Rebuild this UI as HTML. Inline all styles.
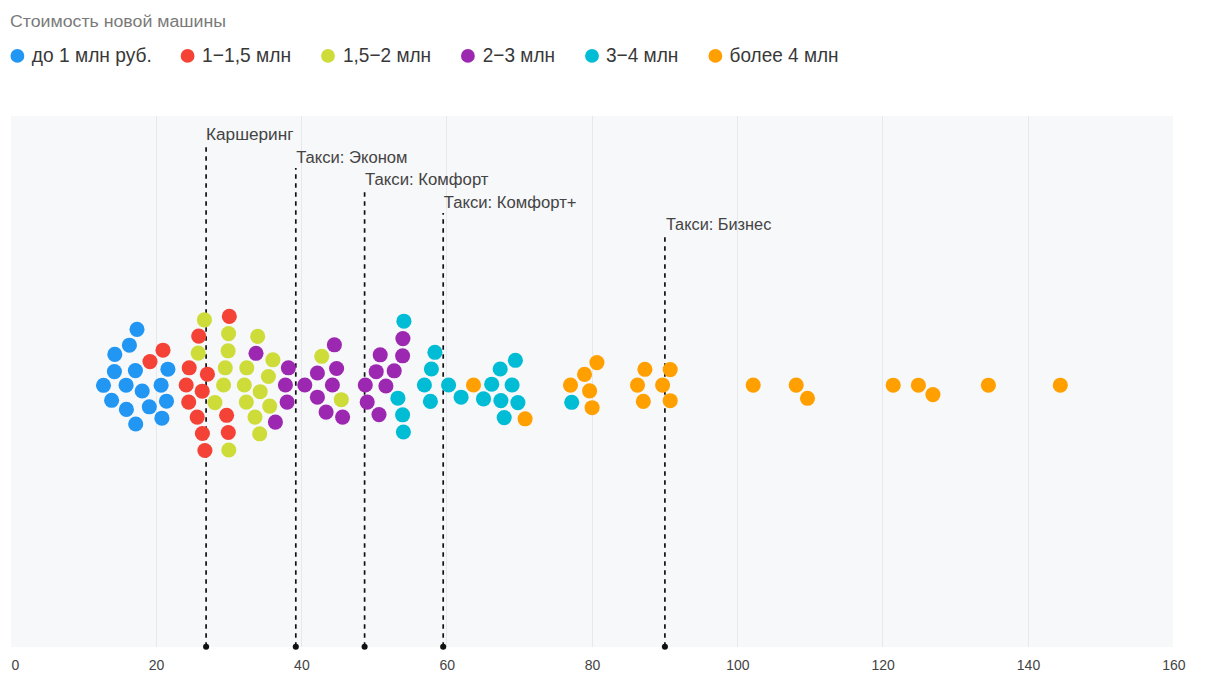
<!DOCTYPE html>
<html><head><meta charset="utf-8"><style>
html,body{margin:0;padding:0;background:#fff;width:1206px;height:682px;overflow:hidden}
svg{display:block}
text{font-family:"Liberation Sans",sans-serif}
.ttl{font-size:16px;fill:#7a7a7a}
.lg{font-size:21px;fill:#383838}
.an{font-size:16px;fill:#444}
.ax{font-size:14px;fill:#444}
</style></head><body>
<svg width="1206" height="682" viewBox="0 0 1206 682">
<text x="10" y="26.9" class="ttl" textLength="216" lengthAdjust="spacingAndGlyphs">Стоимость новой машины</text>
<circle cx="17.4" cy="55.9" r="6.9" fill="#2196F3"/><text x="31.8" y="61.9" class="lg" textLength="120" lengthAdjust="spacingAndGlyphs">до 1 млн руб.</text><circle cx="187.6" cy="55.9" r="6.9" fill="#F44336"/><text x="202.1" y="61.9" class="lg" textLength="89" lengthAdjust="spacingAndGlyphs">1−1,5 млн</text><circle cx="328" cy="55.9" r="6.9" fill="#CDDC39"/><text x="343.0" y="61.9" class="lg" textLength="88.1" lengthAdjust="spacingAndGlyphs">1,5−2 млн</text><circle cx="467.9" cy="55.9" r="6.9" fill="#9C27B0"/><text x="482.8" y="61.9" class="lg" textLength="72.2" lengthAdjust="spacingAndGlyphs">2−3 млн</text><circle cx="592" cy="55.9" r="6.9" fill="#00BCD4"/><text x="605.9" y="61.9" class="lg" textLength="72.5" lengthAdjust="spacingAndGlyphs">3−4 млн</text><circle cx="715.4" cy="55.9" r="6.9" fill="#FFA000"/><text x="729.6" y="61.9" class="lg" textLength="109" lengthAdjust="spacingAndGlyphs">более 4 млн</text>
<rect x="11" y="116" width="1162" height="531" fill="#F7F8FA"/><rect x="156" y="116" width="1" height="531" fill="#E6E8EB"/><rect x="301" y="116" width="1" height="531" fill="#E6E8EB"/><rect x="446" y="116" width="1" height="531" fill="#E6E8EB"/><rect x="592" y="116" width="1" height="531" fill="#E6E8EB"/><rect x="737" y="116" width="1" height="531" fill="#E6E8EB"/><rect x="882" y="116" width="1" height="531" fill="#E6E8EB"/><rect x="1028" y="116" width="1" height="531" fill="#E6E8EB"/><text x="11.5" y="670" class="ax">0</text><text x="156.5" y="670" class="ax" text-anchor="middle">20</text><text x="301.9" y="670" class="ax" text-anchor="middle">40</text><text x="447.2" y="670" class="ax" text-anchor="middle">60</text><text x="592.5" y="670" class="ax" text-anchor="middle">80</text><text x="737.9" y="670" class="ax" text-anchor="middle">100</text><text x="883.2" y="670" class="ax" text-anchor="middle">120</text><text x="1028.5" y="670" class="ax" text-anchor="middle">140</text><text x="1173.9" y="670" class="ax" text-anchor="middle">160</text><path d="M205.25 147.20h1.7V151.70h-1.7zM205.25 156.20h1.7V160.70h-1.7zM205.25 165.20h1.7V169.70h-1.7zM205.25 174.20h1.7V178.70h-1.7zM205.25 183.20h1.7V187.70h-1.7zM205.25 192.20h1.7V196.70h-1.7zM205.25 201.20h1.7V205.70h-1.7zM205.25 210.20h1.7V214.70h-1.7zM205.25 219.20h1.7V223.70h-1.7zM205.25 228.20h1.7V232.70h-1.7zM205.25 237.20h1.7V241.70h-1.7zM205.25 246.20h1.7V250.70h-1.7zM205.25 255.20h1.7V259.70h-1.7zM205.25 264.20h1.7V268.70h-1.7zM205.25 273.20h1.7V277.70h-1.7zM205.25 282.20h1.7V286.70h-1.7zM205.25 291.20h1.7V295.70h-1.7zM205.25 300.20h1.7V304.70h-1.7zM205.25 309.20h1.7V313.70h-1.7zM205.25 318.20h1.7V322.70h-1.7zM205.25 327.20h1.7V331.70h-1.7zM205.25 336.20h1.7V340.70h-1.7zM205.25 345.20h1.7V349.70h-1.7zM205.25 354.20h1.7V358.70h-1.7zM205.25 363.20h1.7V367.70h-1.7zM205.25 372.20h1.7V376.70h-1.7zM205.25 381.20h1.7V385.70h-1.7zM205.25 390.20h1.7V394.70h-1.7zM205.25 399.20h1.7V403.70h-1.7zM205.25 408.20h1.7V412.70h-1.7zM205.25 417.20h1.7V421.70h-1.7zM205.25 426.20h1.7V430.70h-1.7zM205.25 435.20h1.7V439.70h-1.7zM205.25 444.20h1.7V448.70h-1.7zM205.25 453.20h1.7V457.70h-1.7zM205.25 462.20h1.7V466.70h-1.7zM205.25 471.20h1.7V475.70h-1.7zM205.25 480.20h1.7V484.70h-1.7zM205.25 489.20h1.7V493.70h-1.7zM205.25 498.20h1.7V502.70h-1.7zM205.25 507.20h1.7V511.70h-1.7zM205.25 516.20h1.7V520.70h-1.7zM205.25 525.20h1.7V529.70h-1.7zM205.25 534.20h1.7V538.70h-1.7zM205.25 543.20h1.7V547.70h-1.7zM205.25 552.20h1.7V556.70h-1.7zM205.25 561.20h1.7V565.70h-1.7zM205.25 570.20h1.7V574.70h-1.7zM205.25 579.20h1.7V583.70h-1.7zM205.25 588.20h1.7V592.70h-1.7zM205.25 597.20h1.7V601.70h-1.7zM205.25 606.20h1.7V610.70h-1.7zM205.25 615.20h1.7V619.70h-1.7zM205.25 624.20h1.7V628.70h-1.7zM205.25 633.20h1.7V637.70h-1.7zM205.25 642.20h1.7V646.00h-1.7z" fill="#111"/><circle cx="206.1" cy="646.7" r="3.05" fill="#111"/><text x="206.0" y="140.0" class="an" textLength="87.5" lengthAdjust="spacingAndGlyphs">Каршеринг</text><path d="M294.95 167.90h1.7V169.70h-1.7zM294.95 174.20h1.7V178.70h-1.7zM294.95 183.20h1.7V187.70h-1.7zM294.95 192.20h1.7V196.70h-1.7zM294.95 201.20h1.7V205.70h-1.7zM294.95 210.20h1.7V214.70h-1.7zM294.95 219.20h1.7V223.70h-1.7zM294.95 228.20h1.7V232.70h-1.7zM294.95 237.20h1.7V241.70h-1.7zM294.95 246.20h1.7V250.70h-1.7zM294.95 255.20h1.7V259.70h-1.7zM294.95 264.20h1.7V268.70h-1.7zM294.95 273.20h1.7V277.70h-1.7zM294.95 282.20h1.7V286.70h-1.7zM294.95 291.20h1.7V295.70h-1.7zM294.95 300.20h1.7V304.70h-1.7zM294.95 309.20h1.7V313.70h-1.7zM294.95 318.20h1.7V322.70h-1.7zM294.95 327.20h1.7V331.70h-1.7zM294.95 336.20h1.7V340.70h-1.7zM294.95 345.20h1.7V349.70h-1.7zM294.95 354.20h1.7V358.70h-1.7zM294.95 363.20h1.7V367.70h-1.7zM294.95 372.20h1.7V376.70h-1.7zM294.95 381.20h1.7V385.70h-1.7zM294.95 390.20h1.7V394.70h-1.7zM294.95 399.20h1.7V403.70h-1.7zM294.95 408.20h1.7V412.70h-1.7zM294.95 417.20h1.7V421.70h-1.7zM294.95 426.20h1.7V430.70h-1.7zM294.95 435.20h1.7V439.70h-1.7zM294.95 444.20h1.7V448.70h-1.7zM294.95 453.20h1.7V457.70h-1.7zM294.95 462.20h1.7V466.70h-1.7zM294.95 471.20h1.7V475.70h-1.7zM294.95 480.20h1.7V484.70h-1.7zM294.95 489.20h1.7V493.70h-1.7zM294.95 498.20h1.7V502.70h-1.7zM294.95 507.20h1.7V511.70h-1.7zM294.95 516.20h1.7V520.70h-1.7zM294.95 525.20h1.7V529.70h-1.7zM294.95 534.20h1.7V538.70h-1.7zM294.95 543.20h1.7V547.70h-1.7zM294.95 552.20h1.7V556.70h-1.7zM294.95 561.20h1.7V565.70h-1.7zM294.95 570.20h1.7V574.70h-1.7zM294.95 579.20h1.7V583.70h-1.7zM294.95 588.20h1.7V592.70h-1.7zM294.95 597.20h1.7V601.70h-1.7zM294.95 606.20h1.7V610.70h-1.7zM294.95 615.20h1.7V619.70h-1.7zM294.95 624.20h1.7V628.70h-1.7zM294.95 633.20h1.7V637.70h-1.7zM294.95 642.20h1.7V646.00h-1.7z" fill="#111"/><circle cx="295.8" cy="646.7" r="3.05" fill="#111"/><text x="296.2" y="163" class="an" textLength="111.3" lengthAdjust="spacingAndGlyphs">Такси: Эконом</text><path d="M363.75 192.20h1.7V196.70h-1.7zM363.75 201.20h1.7V205.70h-1.7zM363.75 210.20h1.7V214.70h-1.7zM363.75 219.20h1.7V223.70h-1.7zM363.75 228.20h1.7V232.70h-1.7zM363.75 237.20h1.7V241.70h-1.7zM363.75 246.20h1.7V250.70h-1.7zM363.75 255.20h1.7V259.70h-1.7zM363.75 264.20h1.7V268.70h-1.7zM363.75 273.20h1.7V277.70h-1.7zM363.75 282.20h1.7V286.70h-1.7zM363.75 291.20h1.7V295.70h-1.7zM363.75 300.20h1.7V304.70h-1.7zM363.75 309.20h1.7V313.70h-1.7zM363.75 318.20h1.7V322.70h-1.7zM363.75 327.20h1.7V331.70h-1.7zM363.75 336.20h1.7V340.70h-1.7zM363.75 345.20h1.7V349.70h-1.7zM363.75 354.20h1.7V358.70h-1.7zM363.75 363.20h1.7V367.70h-1.7zM363.75 372.20h1.7V376.70h-1.7zM363.75 381.20h1.7V385.70h-1.7zM363.75 390.20h1.7V394.70h-1.7zM363.75 399.20h1.7V403.70h-1.7zM363.75 408.20h1.7V412.70h-1.7zM363.75 417.20h1.7V421.70h-1.7zM363.75 426.20h1.7V430.70h-1.7zM363.75 435.20h1.7V439.70h-1.7zM363.75 444.20h1.7V448.70h-1.7zM363.75 453.20h1.7V457.70h-1.7zM363.75 462.20h1.7V466.70h-1.7zM363.75 471.20h1.7V475.70h-1.7zM363.75 480.20h1.7V484.70h-1.7zM363.75 489.20h1.7V493.70h-1.7zM363.75 498.20h1.7V502.70h-1.7zM363.75 507.20h1.7V511.70h-1.7zM363.75 516.20h1.7V520.70h-1.7zM363.75 525.20h1.7V529.70h-1.7zM363.75 534.20h1.7V538.70h-1.7zM363.75 543.20h1.7V547.70h-1.7zM363.75 552.20h1.7V556.70h-1.7zM363.75 561.20h1.7V565.70h-1.7zM363.75 570.20h1.7V574.70h-1.7zM363.75 579.20h1.7V583.70h-1.7zM363.75 588.20h1.7V592.70h-1.7zM363.75 597.20h1.7V601.70h-1.7zM363.75 606.20h1.7V610.70h-1.7zM363.75 615.20h1.7V619.70h-1.7zM363.75 624.20h1.7V628.70h-1.7zM363.75 633.20h1.7V637.70h-1.7zM363.75 642.20h1.7V646.00h-1.7z" fill="#111"/><circle cx="364.6" cy="646.7" r="3.05" fill="#111"/><text x="365.1" y="185.2" class="an" textLength="123.4" lengthAdjust="spacingAndGlyphs">Такси: Комфорт</text><path d="M442.35 213.00h1.7V214.70h-1.7zM442.35 219.20h1.7V223.70h-1.7zM442.35 228.20h1.7V232.70h-1.7zM442.35 237.20h1.7V241.70h-1.7zM442.35 246.20h1.7V250.70h-1.7zM442.35 255.20h1.7V259.70h-1.7zM442.35 264.20h1.7V268.70h-1.7zM442.35 273.20h1.7V277.70h-1.7zM442.35 282.20h1.7V286.70h-1.7zM442.35 291.20h1.7V295.70h-1.7zM442.35 300.20h1.7V304.70h-1.7zM442.35 309.20h1.7V313.70h-1.7zM442.35 318.20h1.7V322.70h-1.7zM442.35 327.20h1.7V331.70h-1.7zM442.35 336.20h1.7V340.70h-1.7zM442.35 345.20h1.7V349.70h-1.7zM442.35 354.20h1.7V358.70h-1.7zM442.35 363.20h1.7V367.70h-1.7zM442.35 372.20h1.7V376.70h-1.7zM442.35 381.20h1.7V385.70h-1.7zM442.35 390.20h1.7V394.70h-1.7zM442.35 399.20h1.7V403.70h-1.7zM442.35 408.20h1.7V412.70h-1.7zM442.35 417.20h1.7V421.70h-1.7zM442.35 426.20h1.7V430.70h-1.7zM442.35 435.20h1.7V439.70h-1.7zM442.35 444.20h1.7V448.70h-1.7zM442.35 453.20h1.7V457.70h-1.7zM442.35 462.20h1.7V466.70h-1.7zM442.35 471.20h1.7V475.70h-1.7zM442.35 480.20h1.7V484.70h-1.7zM442.35 489.20h1.7V493.70h-1.7zM442.35 498.20h1.7V502.70h-1.7zM442.35 507.20h1.7V511.70h-1.7zM442.35 516.20h1.7V520.70h-1.7zM442.35 525.20h1.7V529.70h-1.7zM442.35 534.20h1.7V538.70h-1.7zM442.35 543.20h1.7V547.70h-1.7zM442.35 552.20h1.7V556.70h-1.7zM442.35 561.20h1.7V565.70h-1.7zM442.35 570.20h1.7V574.70h-1.7zM442.35 579.20h1.7V583.70h-1.7zM442.35 588.20h1.7V592.70h-1.7zM442.35 597.20h1.7V601.70h-1.7zM442.35 606.20h1.7V610.70h-1.7zM442.35 615.20h1.7V619.70h-1.7zM442.35 624.20h1.7V628.70h-1.7zM442.35 633.20h1.7V637.70h-1.7zM442.35 642.20h1.7V646.00h-1.7z" fill="#111"/><circle cx="443.2" cy="646.7" r="3.05" fill="#111"/><text x="443.8" y="208.4" class="an" textLength="132.7" lengthAdjust="spacingAndGlyphs">Такси: Комфорт+</text><path d="M664.05 237.20h1.7V241.70h-1.7zM664.05 246.20h1.7V250.70h-1.7zM664.05 255.20h1.7V259.70h-1.7zM664.05 264.20h1.7V268.70h-1.7zM664.05 273.20h1.7V277.70h-1.7zM664.05 282.20h1.7V286.70h-1.7zM664.05 291.20h1.7V295.70h-1.7zM664.05 300.20h1.7V304.70h-1.7zM664.05 309.20h1.7V313.70h-1.7zM664.05 318.20h1.7V322.70h-1.7zM664.05 327.20h1.7V331.70h-1.7zM664.05 336.20h1.7V340.70h-1.7zM664.05 345.20h1.7V349.70h-1.7zM664.05 354.20h1.7V358.70h-1.7zM664.05 363.20h1.7V367.70h-1.7zM664.05 372.20h1.7V376.70h-1.7zM664.05 381.20h1.7V385.70h-1.7zM664.05 390.20h1.7V394.70h-1.7zM664.05 399.20h1.7V403.70h-1.7zM664.05 408.20h1.7V412.70h-1.7zM664.05 417.20h1.7V421.70h-1.7zM664.05 426.20h1.7V430.70h-1.7zM664.05 435.20h1.7V439.70h-1.7zM664.05 444.20h1.7V448.70h-1.7zM664.05 453.20h1.7V457.70h-1.7zM664.05 462.20h1.7V466.70h-1.7zM664.05 471.20h1.7V475.70h-1.7zM664.05 480.20h1.7V484.70h-1.7zM664.05 489.20h1.7V493.70h-1.7zM664.05 498.20h1.7V502.70h-1.7zM664.05 507.20h1.7V511.70h-1.7zM664.05 516.20h1.7V520.70h-1.7zM664.05 525.20h1.7V529.70h-1.7zM664.05 534.20h1.7V538.70h-1.7zM664.05 543.20h1.7V547.70h-1.7zM664.05 552.20h1.7V556.70h-1.7zM664.05 561.20h1.7V565.70h-1.7zM664.05 570.20h1.7V574.70h-1.7zM664.05 579.20h1.7V583.70h-1.7zM664.05 588.20h1.7V592.70h-1.7zM664.05 597.20h1.7V601.70h-1.7zM664.05 606.20h1.7V610.70h-1.7zM664.05 615.20h1.7V619.70h-1.7zM664.05 624.20h1.7V628.70h-1.7zM664.05 633.20h1.7V637.70h-1.7zM664.05 642.20h1.7V646.00h-1.7z" fill="#111"/><circle cx="664.9" cy="646.7" r="3.05" fill="#111"/><text x="665.9" y="230.1" class="an" textLength="105.4" lengthAdjust="spacingAndGlyphs">Такси: Бизнес</text><circle cx="137.0" cy="329.4" r="7.55" fill="#2196F3"/><circle cx="129.4" cy="345.2" r="7.55" fill="#2196F3"/><circle cx="114.8" cy="354.4" r="7.55" fill="#2196F3"/><circle cx="114.4" cy="371.6" r="7.55" fill="#2196F3"/><circle cx="135.4" cy="370.6" r="7.55" fill="#2196F3"/><circle cx="167.9" cy="369.2" r="7.55" fill="#2196F3"/><circle cx="103.5" cy="385.3" r="7.55" fill="#2196F3"/><circle cx="126.1" cy="385.2" r="7.55" fill="#2196F3"/><circle cx="142.2" cy="391.0" r="7.55" fill="#2196F3"/><circle cx="161.1" cy="385.2" r="7.55" fill="#2196F3"/><circle cx="111.6" cy="400.3" r="7.55" fill="#2196F3"/><circle cx="126.4" cy="409.4" r="7.55" fill="#2196F3"/><circle cx="149.3" cy="406.8" r="7.55" fill="#2196F3"/><circle cx="166.5" cy="401.2" r="7.55" fill="#2196F3"/><circle cx="135.7" cy="424.0" r="7.55" fill="#2196F3"/><circle cx="161.9" cy="418.2" r="7.55" fill="#2196F3"/><circle cx="163.0" cy="350.2" r="7.55" fill="#F44336"/><circle cx="150.0" cy="361.6" r="7.55" fill="#F44336"/><circle cx="229.3" cy="316.4" r="7.55" fill="#F44336"/><circle cx="198.7" cy="336.1" r="7.55" fill="#F44336"/><circle cx="189.2" cy="367.8" r="7.55" fill="#F44336"/><circle cx="207.4" cy="374.2" r="7.55" fill="#F44336"/><circle cx="186.2" cy="385.0" r="7.55" fill="#F44336"/><circle cx="202.2" cy="391.2" r="7.55" fill="#F44336"/><circle cx="188.7" cy="402.1" r="7.55" fill="#F44336"/><circle cx="197.2" cy="417.1" r="7.55" fill="#F44336"/><circle cx="226.6" cy="415.3" r="7.55" fill="#F44336"/><circle cx="202.4" cy="433.5" r="7.55" fill="#F44336"/><circle cx="228.3" cy="432.5" r="7.55" fill="#F44336"/><circle cx="204.9" cy="450.5" r="7.55" fill="#F44336"/><circle cx="204.4" cy="319.9" r="7.55" fill="#CDDC39"/><circle cx="228.6" cy="333.6" r="7.55" fill="#CDDC39"/><circle cx="257.7" cy="336.4" r="7.55" fill="#CDDC39"/><circle cx="198.2" cy="353.1" r="7.55" fill="#CDDC39"/><circle cx="228.1" cy="350.8" r="7.55" fill="#CDDC39"/><circle cx="272.9" cy="359.8" r="7.55" fill="#CDDC39"/><circle cx="225.3" cy="367.8" r="7.55" fill="#CDDC39"/><circle cx="246.8" cy="367.8" r="7.55" fill="#CDDC39"/><circle cx="268.4" cy="376.5" r="7.55" fill="#CDDC39"/><circle cx="223.6" cy="385.0" r="7.55" fill="#CDDC39"/><circle cx="244.3" cy="385.0" r="7.55" fill="#CDDC39"/><circle cx="260.2" cy="391.7" r="7.55" fill="#CDDC39"/><circle cx="214.9" cy="402.6" r="7.55" fill="#CDDC39"/><circle cx="246.3" cy="402.1" r="7.55" fill="#CDDC39"/><circle cx="269.7" cy="406.1" r="7.55" fill="#CDDC39"/><circle cx="255.0" cy="417.1" r="7.55" fill="#CDDC39"/><circle cx="259.7" cy="433.8" r="7.55" fill="#CDDC39"/><circle cx="228.8" cy="450.0" r="7.55" fill="#CDDC39"/><circle cx="321.7" cy="356.3" r="7.55" fill="#CDDC39"/><circle cx="341.3" cy="399.7" r="7.55" fill="#CDDC39"/><circle cx="256.0" cy="353.3" r="7.55" fill="#9C27B0"/><circle cx="288.4" cy="367.8" r="7.55" fill="#9C27B0"/><circle cx="285.4" cy="385.0" r="7.55" fill="#9C27B0"/><circle cx="304.8" cy="385.0" r="7.55" fill="#9C27B0"/><circle cx="287.1" cy="402.1" r="7.55" fill="#9C27B0"/><circle cx="275.4" cy="422.1" r="7.55" fill="#9C27B0"/><circle cx="334.4" cy="344.8" r="7.55" fill="#9C27B0"/><circle cx="317.4" cy="373.0" r="7.55" fill="#9C27B0"/><circle cx="336.6" cy="368.5" r="7.55" fill="#9C27B0"/><circle cx="332.4" cy="385.0" r="7.55" fill="#9C27B0"/><circle cx="317.4" cy="397.2" r="7.55" fill="#9C27B0"/><circle cx="326.1" cy="412.1" r="7.55" fill="#9C27B0"/><circle cx="342.6" cy="417.1" r="7.55" fill="#9C27B0"/><circle cx="380.2" cy="354.8" r="7.55" fill="#9C27B0"/><circle cx="376.2" cy="371.7" r="7.55" fill="#9C27B0"/><circle cx="394.2" cy="370.8" r="7.55" fill="#9C27B0"/><circle cx="365.3" cy="385.0" r="7.55" fill="#9C27B0"/><circle cx="385.9" cy="386.0" r="7.55" fill="#9C27B0"/><circle cx="367.2" cy="402.1" r="7.55" fill="#9C27B0"/><circle cx="379.0" cy="414.6" r="7.55" fill="#9C27B0"/><circle cx="402.9" cy="338.6" r="7.55" fill="#9C27B0"/><circle cx="402.6" cy="355.8" r="7.55" fill="#9C27B0"/><circle cx="403.9" cy="321.2" r="7.55" fill="#00BCD4"/><circle cx="397.9" cy="398.2" r="7.55" fill="#00BCD4"/><circle cx="402.6" cy="414.8" r="7.55" fill="#00BCD4"/><circle cx="403.4" cy="432.0" r="7.55" fill="#00BCD4"/><circle cx="434.9" cy="352.3" r="7.55" fill="#00BCD4"/><circle cx="431.4" cy="369.0" r="7.55" fill="#00BCD4"/><circle cx="424.4" cy="385.0" r="7.55" fill="#00BCD4"/><circle cx="430.4" cy="401.4" r="7.55" fill="#00BCD4"/><circle cx="448.6" cy="385.0" r="7.55" fill="#00BCD4"/><circle cx="461.1" cy="397.2" r="7.55" fill="#00BCD4"/><circle cx="491.7" cy="384.2" r="7.55" fill="#00BCD4"/><circle cx="483.5" cy="398.9" r="7.55" fill="#00BCD4"/><circle cx="500.2" cy="369.0" r="7.55" fill="#00BCD4"/><circle cx="515.4" cy="360.3" r="7.55" fill="#00BCD4"/><circle cx="512.1" cy="385.0" r="7.55" fill="#00BCD4"/><circle cx="500.9" cy="400.6" r="7.55" fill="#00BCD4"/><circle cx="517.9" cy="402.6" r="7.55" fill="#00BCD4"/><circle cx="504.2" cy="417.6" r="7.55" fill="#00BCD4"/><circle cx="571.7" cy="402.3" r="7.55" fill="#00BCD4"/><circle cx="473.5" cy="385.0" r="7.55" fill="#FFA000"/><circle cx="525.1" cy="418.8" r="7.55" fill="#FFA000"/><circle cx="596.9" cy="362.6" r="7.55" fill="#FFA000"/><circle cx="584.5" cy="374.4" r="7.55" fill="#FFA000"/><circle cx="570.5" cy="385.1" r="7.55" fill="#FFA000"/><circle cx="589.6" cy="390.9" r="7.55" fill="#FFA000"/><circle cx="592.1" cy="407.7" r="7.55" fill="#FFA000"/><circle cx="644.9" cy="369.3" r="7.55" fill="#FFA000"/><circle cx="637.5" cy="385.1" r="7.55" fill="#FFA000"/><circle cx="643.3" cy="401.4" r="7.55" fill="#FFA000"/><circle cx="670.2" cy="369.6" r="7.55" fill="#FFA000"/><circle cx="662.6" cy="385.1" r="7.55" fill="#FFA000"/><circle cx="670.2" cy="400.7" r="7.55" fill="#FFA000"/><circle cx="753.2" cy="385.1" r="7.55" fill="#FFA000"/><circle cx="796.2" cy="385.1" r="7.55" fill="#FFA000"/><circle cx="807.5" cy="398.3" r="7.55" fill="#FFA000"/><circle cx="893.2" cy="385.2" r="7.55" fill="#FFA000"/><circle cx="918.4" cy="385.2" r="7.55" fill="#FFA000"/><circle cx="932.9" cy="394.6" r="7.55" fill="#FFA000"/><circle cx="988.4" cy="385.2" r="7.55" fill="#FFA000"/><circle cx="1060.3" cy="385.2" r="7.55" fill="#FFA000"/>
</svg>
</body></html>
